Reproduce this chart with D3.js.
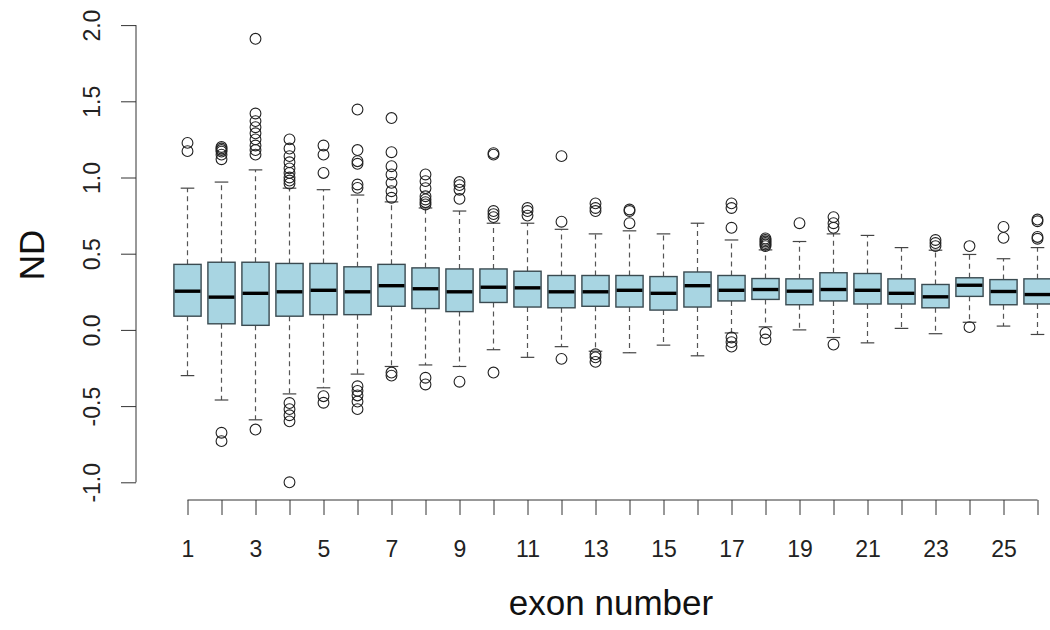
<!DOCTYPE html>
<html>
<head>
<meta charset="utf-8">
<script src="https://cdn.jsdelivr.net/npm/d3@7"></script>
<style>
  html, body { margin: 0; padding: 0; background: #fff; }
  svg { display: block; font-family: "Liberation Sans", Arial, sans-serif; }
</style>
</head>
<body>
<svg id="chart" width="1050" height="630"></svg>
<script>
// exon numbers on the x axis
const exons = d3.range(1, 27);

// box statistics, one per exon
const whiskLo = [-0.30, -0.46, -0.59, -0.42, -0.38, -0.29, -0.24, -0.23, -0.24, -0.13,
                 -0.18, -0.11, -0.14, -0.15, -0.10, -0.17, -0.02, 0.02, 0.00, -0.05,
                 -0.085, 0.01, -0.025, 0.05, 0.025, -0.03];
const q1 = [0.09, 0.04, 0.03, 0.09, 0.10, 0.10, 0.155, 0.14, 0.12, 0.18,
            0.15, 0.145, 0.155, 0.15, 0.13, 0.15, 0.19, 0.20, 0.165, 0.19,
            0.17, 0.17, 0.145, 0.22, 0.165, 0.17];
const median = [0.254, 0.215, 0.24, 0.25, 0.26, 0.25, 0.29, 0.27, 0.25, 0.28,
                0.276, 0.25, 0.25, 0.26, 0.24, 0.29, 0.26, 0.265, 0.254, 0.265,
                0.26, 0.24, 0.217, 0.293, 0.252, 0.232];
const q3 = [0.43, 0.444, 0.444, 0.436, 0.436, 0.414, 0.43, 0.407, 0.40, 0.40,
            0.385, 0.357, 0.357, 0.357, 0.35, 0.38, 0.357, 0.337, 0.335, 0.375,
            0.37, 0.335, 0.298, 0.342, 0.33, 0.335];
const whiskHi = [0.93, 0.97, 1.05, 0.93, 0.92, 0.885, 0.84, 0.80, 0.78, 0.70,
                 0.70, 0.66, 0.63, 0.65, 0.63, 0.70, 0.59, 0.525, 0.58, 0.63,
                 0.62, 0.54, 0.523, 0.495, 0.467, 0.54];

// outlying points per exon
const outliers = [
  [1.227, 1.173],
  [1.20, 1.19, 1.18, 1.17, 1.15, 1.12, -0.675, -0.73],
  [1.91, 1.42, 1.37, 1.33, 1.29, 1.25, 1.21, 1.18, 1.15, -0.654],
  [1.25, 1.19, 1.14, 1.10, 1.06, 1.03, 1.00, 0.98, 0.96, -0.48, -0.52, -0.56, -0.60, -1.0],
  [1.21, 1.15, 1.03, -0.435, -0.478],
  [1.446, 1.18, 1.107, 1.09, 0.954, 0.932, -0.37, -0.40, -0.43, -0.47, -0.52],
  [1.39, 1.166, 1.074, 1.02, 0.965, 0.91, 0.867, -0.28, -0.30],
  [1.02, 0.976, 0.93, 0.877, 0.856, 0.838, 0.823, -0.314, -0.358],
  [0.97, 0.95, 0.92, 0.86, -0.34],
  [1.16, 1.15, 0.78, 0.76, 0.74, -0.28],
  [0.80, 0.78, 0.75],
  [1.14, 0.71, -0.19],
  [0.83, 0.80, 0.78, -0.16, -0.18, -0.21],
  [0.79, 0.78, 0.70],
  [],
  [],
  [0.83, 0.80, 0.67, -0.05, -0.08, -0.11],
  [0.60, 0.59, 0.58, 0.57, 0.56, 0.55, -0.02, -0.063],
  [0.70],
  [0.74, 0.70, 0.67, -0.096],
  [],
  [],
  [0.59, 0.57, 0.55],
  [0.55, 0.018],
  [0.676, 0.604],
  [0.724, 0.713, 0.61, 0.598]
];

// y axis ticks
const yTicks = [-1.0, -0.5, 0.0, 0.5, 1.0, 1.5, 2.0];
const xTickLabels = exons.filter(d => d % 2 === 1);

const svg = d3.select('#chart');

const x = d3.scaleLinear().domain([1, 26]).range([187.5, 1037.5]);
const y = d3.scaleLinear().domain([-1, 2]).range([482.3, 25.1]);

const boxW = 27.2;
const stapleW = boxW / 2;
const axisColor = '#333';
const tickFont = 23;

// boxes
const boxes = svg.append('g')
  .selectAll('g.box')
  .data(exons)
  .enter()
  .append('g')
  .attr('class', 'box');

const i = d => d - 1;

// whiskers (dashed)
boxes.append('line')
  .attr('x1', d => x(d)).attr('x2', d => x(d))
  .attr('y1', d => y(q3[i(d)])).attr('y2', d => y(whiskHi[i(d)]))
  .attr('stroke', '#555').attr('stroke-width', 1.2).attr('stroke-dasharray', '5,4');
boxes.append('line')
  .attr('x1', d => x(d)).attr('x2', d => x(d))
  .attr('y1', d => y(q1[i(d)])).attr('y2', d => y(whiskLo[i(d)]))
  .attr('stroke', '#555').attr('stroke-width', 1.2).attr('stroke-dasharray', '5,4');

// staples
[whiskHi, whiskLo].forEach(arr => {
  boxes.append('line')
    .attr('x1', d => x(d) - stapleW / 2).attr('x2', d => x(d) + stapleW / 2)
    .attr('y1', d => y(arr[i(d)])).attr('y2', d => y(arr[i(d)]))
    .attr('stroke', '#444').attr('stroke-width', 1.2);
});

// box body
boxes.append('rect')
  .attr('x', d => x(d) - boxW / 2)
  .attr('width', boxW)
  .attr('y', d => y(q3[i(d)]))
  .attr('height', d => y(q1[i(d)]) - y(q3[i(d)]))
  .attr('fill', '#a8d5e2')
  .attr('stroke', '#3a4a50')
  .attr('stroke-width', 1.4);

// median
boxes.append('line')
  .attr('x1', d => x(d) - boxW / 2 + 0.7).attr('x2', d => x(d) + boxW / 2 - 0.7)
  .attr('y1', d => y(median[i(d)])).attr('y2', d => y(median[i(d)]))
  .attr('stroke', '#000').attr('stroke-width', 3.4);

// outlier circles
boxes.selectAll('circle')
  .data(d => outliers[i(d)].map(v => ({ ex: d, v })))
  .enter()
  .append('circle')
  .attr('cx', p => x(p.ex))
  .attr('cy', p => y(p.v))
  .attr('r', 5.4)
  .attr('fill', 'none')
  .attr('stroke', '#222')
  .attr('stroke-width', 1.1);

// y axis
const yAxis = svg.append('g')
  .attr('transform', 'translate(136,0)')
  .call(d3.axisLeft(y).tickValues(yTicks).tickSize(15).tickPadding(0)
    .tickFormat(d => d3.format('.1f')(d).replace('\u2212', '-')));
yAxis.attr('font-family', null).attr('font-size', null);
yAxis.select('.domain').attr('stroke', axisColor).attr('d', `M0,${y(-1)}V${y(2)}`);
yAxis.selectAll('.tick line').attr('stroke', axisColor);
yAxis.selectAll('.tick text')
  .attr('font-size', tickFont)
  .attr('fill', '#222')
  .attr('text-anchor', 'middle')
  .attr('x', null).attr('dy', null)
  .attr('transform', 'translate(-36,0) rotate(-90)')
  .attr('y', 0);

// x axis
const xAxis = svg.append('g')
  .attr('transform', 'translate(0,500)')
  .call(d3.axisBottom(x).tickValues(exons).tickSize(15).tickPadding(0)
    .tickFormat(d => (xTickLabels.includes(d) ? d : '')));
xAxis.attr('font-family', null).attr('font-size', null);
xAxis.select('.domain').attr('stroke', axisColor).attr('d', `M${x(1)},0H${x(26)}`);
xAxis.selectAll('.tick line').attr('stroke', axisColor);
xAxis.selectAll('.tick text')
  .attr('font-size', tickFont)
  .attr('fill', '#222')
  .attr('y', 57)
  .attr('dy', null);

// axis titles
svg.append('text')
  .attr('transform', 'translate(44,255) rotate(-90)')
  .attr('text-anchor', 'middle')
  .attr('font-size', 35)
  .attr('fill', '#111')
  .text('ND');

svg.append('text')
  .attr('x', 611).attr('y', 615)
  .attr('text-anchor', 'middle')
  .attr('font-size', 35)
  .attr('fill', '#111')
  .text('exon number');
</script>
</body>
</html>
